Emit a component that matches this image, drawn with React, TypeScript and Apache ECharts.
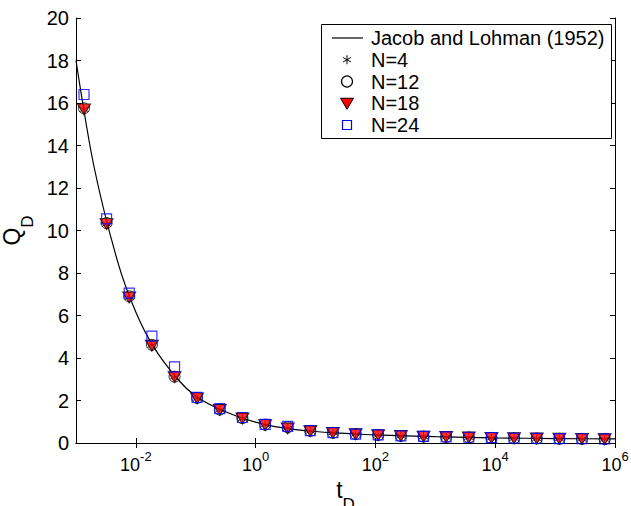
import { useEffect, useRef } from 'react';
import * as echarts from 'echarts';

// Dimensionless time of the simulated points
const tD = [0.00136, 0.00324, 0.00775, 0.0185, 0.0442, 0.105, 0.252, 0.601, 1.44, 3.43, 8.18, 19.5, 46.7, 111, 266, 635, 1517, 3622, 8650, 20650, 49320, 117800, 281200, 671400];
// Dimensionless rate for each N
const qN4 = [15.7, 10.3, 6.85, 4.6, 3.1, 2.1, 1.55, 1.15, 0.85, 0.7, 0.56, 0.48, 0.42, 0.37, 0.33, 0.3, 0.28, 0.26, 0.24, 0.22, 0.21, 0.2, 0.19, 0.18];
const qN12 = [15.75, 10.35, 6.9, 4.62, 3.12, 2.12, 1.57, 1.17, 0.86, 0.74, 0.57, 0.48, 0.42, 0.37, 0.33, 0.3, 0.28, 0.26, 0.24, 0.22, 0.21, 0.2, 0.19, 0.18];
const qN18 = [15.7, 10.3, 6.85, 4.58, 3.1, 2.1, 1.55, 1.15, 0.84, 0.68, 0.55, 0.47, 0.41, 0.37, 0.33, 0.3, 0.28, 0.26, 0.24, 0.22, 0.21, 0.2, 0.19, 0.18];
const qN24 = [16.4, 10.55, 7.05, 5.03, 3.58, 2.15, 1.62, 1.2, 0.88, 0.78, 0.58, 0.49, 0.42, 0.38, 0.34, 0.31, 0.29, 0.27, 0.25, 0.23, 0.22, 0.21, 0.2, 0.19];
// Jacob and Lohman (1952) curve
const jlT = [0.001, 0.002, 0.005, 0.01, 0.02, 0.05, 0.1, 0.2, 0.5, 1, 2, 5, 10, 20, 50, 100, 1000, 10000, 100000, 1000000];
const jlQ = [18.0, 13.0, 8.5, 6.15, 4.5, 3.0, 2.2, 1.72, 1.25, 0.98, 0.78, 0.62, 0.54, 0.48, 0.42, 0.38, 0.3, 0.24, 0.21, 0.19];
const xTickValues = [0.01, 1, 100, 10000, 1000000];
const legendLabels = ['Jacob and Lohman (1952)', 'N=4', 'N=12', 'N=18', 'N=24'];

const FONT = "'Liberation Sans', Arial, Helvetica, sans-serif";
const ASTERISK = 'path://M5,0L5,10M0.67,2.5L9.33,7.5M0.67,7.5L9.33,2.5';

export default function App() {
  const ref = useRef<HTMLDivElement>(null);
  useEffect(() => {
    const chart = echarts.init(ref.current!, null, { renderer: 'svg' });
    const pts = (q: number[]) => tD.map((t, i) => [t, q[i]]);
    const baseX = {
      type: 'log',
      logBase: 10,
      min: 0.001,
      max: 1000000,
      gridIndex: 0,
      axisLine: { show: true, lineStyle: { color: '#000', width: 1 } },
      axisTick: { show: true, inside: true, length: 5, customValues: xTickValues, lineStyle: { color: '#000' } },
      splitLine: { show: false },
      minorTick: { show: false },
    };
    const baseY = {
      type: 'value',
      min: 0,
      max: 20,
      interval: 2,
      gridIndex: 0,
      axisLine: { show: true, lineStyle: { color: '#000', width: 1 } },
      axisTick: { show: true, inside: true, length: 5, lineStyle: { color: '#000' } },
      splitLine: { show: false },
    };

    // Legend drawn by hand (box, icons, texts)
    const LX = 321, LY = 24, LW = 290, LH = 114;
    const rowY = (i: number) => 38 + i * 21.75;
    const iconX = 347;
    const legendGraphic: any[] = [
      { type: 'rect', shape: { x: LX + 0.5, y: LY + 0.5, width: LW, height: LH }, style: { fill: '#fff', stroke: '#000', lineWidth: 1 }, z: 100 },
      { type: 'line', shape: { x1: 332, y1: rowY(0), x2: 363, y2: rowY(0) }, style: { stroke: '#000', lineWidth: 1.2 }, z: 101 },
      { type: 'line', shape: { x1: iconX, y1: rowY(1) - 4.5, x2: iconX, y2: rowY(1) + 4.5 }, style: { stroke: '#000', lineWidth: 1 }, z: 101 },
      { type: 'line', shape: { x1: iconX - 3.9, y1: rowY(1) - 2.25, x2: iconX + 3.9, y2: rowY(1) + 2.25 }, style: { stroke: '#000', lineWidth: 1 }, z: 101 },
      { type: 'line', shape: { x1: iconX - 3.9, y1: rowY(1) + 2.25, x2: iconX + 3.9, y2: rowY(1) - 2.25 }, style: { stroke: '#000', lineWidth: 1 }, z: 101 },
      { type: 'circle', shape: { cx: iconX, cy: rowY(2), r: 5.5 }, style: { fill: 'none', stroke: '#000', lineWidth: 1.2 }, z: 101 },
      { type: 'polygon', shape: { points: [[iconX - 6.5, rowY(3) - 5], [iconX + 6.5, rowY(3) - 5], [iconX, rowY(3) + 6]] }, style: { fill: '#ff0000', stroke: '#000', lineWidth: 1 }, z: 101 },
      { type: 'rect', shape: { x: iconX - 4.5, y: rowY(4) - 4.5, width: 9, height: 9 }, style: { fill: 'none', stroke: '#0000ff', lineWidth: 1.2 }, z: 101 },
      ...legendLabels.map((s, i) => ({
        type: 'text',
        x: 371,
        y: rowY(i),
        style: { text: s, fontFamily: FONT, fontSize: 20, fill: '#000', verticalAlign: 'middle', align: 'left' },
        z: 101,
      })),
    ];

    chart.setOption({
      animation: false,
      backgroundColor: '#fff',
      textStyle: { fontFamily: FONT },
      grid: { left: 76, right: 16, top: 18, bottom: 63, containLabel: false, outerBoundsMode: 'none' },
      graphic: legendGraphic,
      xAxis: [
        {
          ...baseX,
          position: 'bottom',
          name: '{a|t}{b|D}',
          nameLocation: 'middle',
          nameGap: 25,
          nameTextStyle: {
            color: '#000',
            rich: {
              a: { fontFamily: FONT, fontSize: 23, color: '#000', verticalAlign: 'top', lineHeight: 23 },
              b: { fontFamily: FONT, fontSize: 17, color: '#000', verticalAlign: 'top', padding: [17, 0, 0, 0] },
            },
          },
          axisLabel: {
            show: true,
            margin: 7,
            customValues: xTickValues,
            formatter: (v: number) => `{b|10}{s|${Math.round(Math.log10(v))}}`,
            rich: {
              b: { fontFamily: FONT, fontSize: 18, color: '#000' },
              s: { fontFamily: FONT, fontSize: 13, color: '#000', padding: [0, 0, 17, 0] },
            },
          },
        },
        {
          ...baseX,
          position: 'top',
          axisLabel: { show: false },
        },
      ],
      yAxis: [
        {
          ...baseY,
          position: 'left',
          name: '{a|Q}{b|D}',
          nameLocation: 'middle',
          nameGap: 38,
          nameTextStyle: {
            color: '#000',
            rich: {
              a: { fontFamily: FONT, fontSize: 23, color: '#000', verticalAlign: 'top', lineHeight: 23 },
              b: { fontFamily: FONT, fontSize: 17, color: '#000', verticalAlign: 'top', padding: [18, 0, 0, 0] },
            },
          },
          axisLabel: { show: true, margin: 7, fontFamily: FONT, fontSize: 20, color: '#000' },
        },
        {
          ...baseY,
          position: 'right',
          axisLabel: { show: false },
        },
      ],
      series: [
        {
          name: 'Jacob and Lohman (1952)',
          type: 'line',
          data: jlT.map((t, i) => [t, jlQ[i]]),
          smooth: 0.3,
          symbol: 'none',
          lineStyle: { color: '#000', width: 1.2 },
          itemStyle: { color: '#000' },
          z: 2,
        },
        {
          name: 'N=4',
          type: 'scatter',
          data: pts(qN4),
          symbol: ASTERISK,
          symbolSize: 9,
          itemStyle: { color: '#000', borderColor: '#000', borderWidth: 1 },
          z: 3,
        },
        {
          name: 'N=12',
          type: 'scatter',
          data: pts(qN12),
          symbol: 'circle',
          symbolSize: 11,
          itemStyle: { color: 'rgba(0,0,0,0)', borderColor: '#000', borderWidth: 1 },
          z: 3,
        },
        {
          name: 'N=18',
          type: 'scatter',
          data: pts(qN18),
          symbol: 'triangle',
          symbolSize: [13, 11],
          symbolRotate: 180,
          itemStyle: { color: '#ff0000', borderColor: '#000', borderWidth: 1 },
          z: 3,
        },
        {
          name: 'N=24',
          type: 'scatter',
          data: pts(qN24),
          symbol: 'rect',
          symbolSize: 10,
          itemStyle: { color: 'rgba(0,0,0,0)', borderColor: '#0000ff', borderWidth: 1.2 },
          z: 3,
        },
      ],
    });
    return () => chart.dispose();
  }, []);
  return (
    <div
      ref={ref}
      style={{ position: 'fixed', left: 0, top: 0, width: 631, height: 506, background: '#fff' }}
    />
  );
}
